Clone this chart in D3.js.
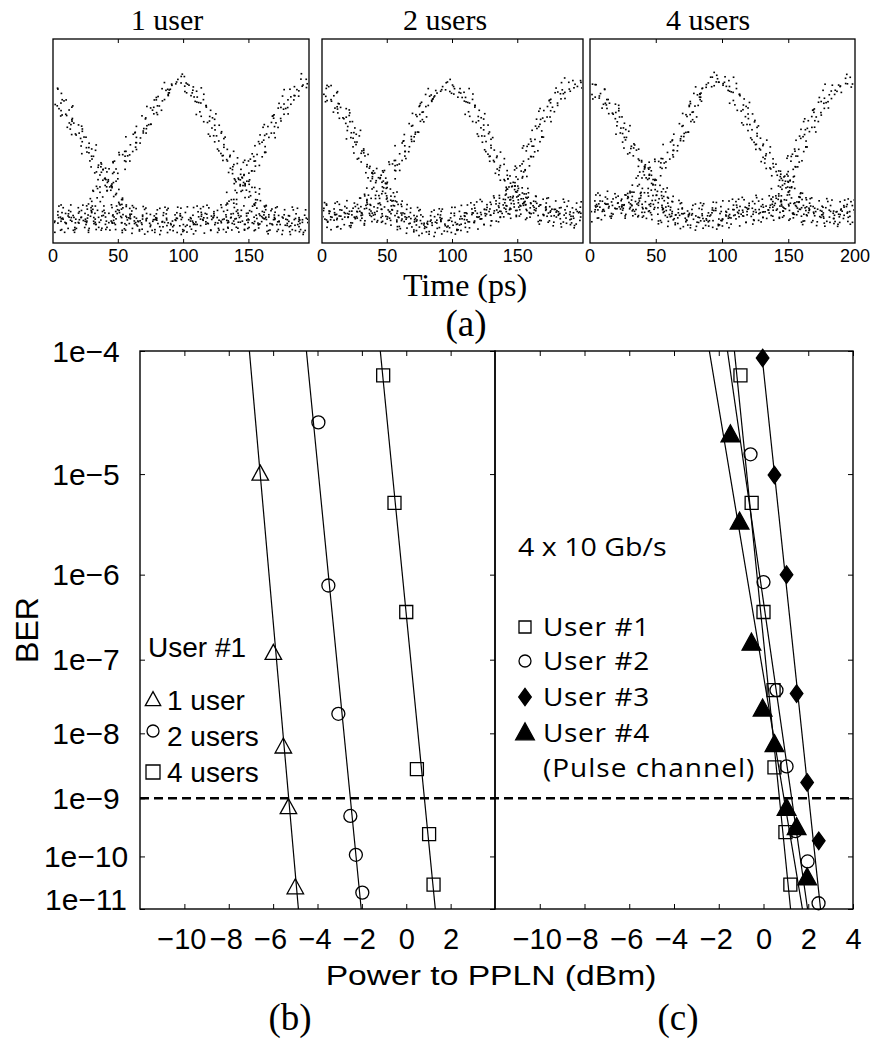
<!DOCTYPE html>
<html><head><meta charset="utf-8">
<script src="https://cdn.jsdelivr.net/npm/d3@7"></script>
<style>body{margin:0;background:#fff}svg{display:block}</style>
</head><body><svg id="c" width="872" height="1040"></svg>
<script>
// ================= DATA =================
// (a) eye diagrams: [time (ps), normalised level]
const eyeTitles = ["1 user", "2 users", "4 users"];
const eyeTimeDomains = [[0, 196], [0, 200], [0, 200]];
const eyeTickValues = [[0, 50, 100, 150], [0, 50, 100, 150], [0, 50, 100, 150, 200]];

const eye1Fall  = [[0,0.74],[6,0.69],[12,0.63],[18,0.56],[24,0.50],[30,0.43],[36,0.36],[41,0.31],[47,0.25],[53,0.19],[58,0.15]];
const eye1Pulse = [[27,0.16],[33,0.22],[38,0.28],[43,0.33],[49,0.38],[55,0.43],[62,0.50],[68,0.56],[74,0.62],[80,0.68],[87,0.74],[93,0.78],[98,0.80],[103,0.78],[109,0.73],[115,0.66],[121,0.58],[127,0.51],[133,0.43],[139,0.37],[145,0.32],[151,0.26],[157,0.20],[163,0.15]];
const eye1Rise  = [[133,0.16],[139,0.23],[145,0.31],[151,0.38],[157,0.44],[163,0.51],[169,0.58],[175,0.65],[181,0.71],[188,0.77],[196,0.81]];
const eye1Zero  = [[0,0.12],[25,0.12],[50,0.12],[75,0.11],[100,0.11],[125,0.12],[150,0.12],[175,0.11],[196,0.11]];

const eye2Fall  = [[0,0.79],[9,0.70],[18,0.63],[23,0.55],[28,0.47],[33,0.40],[38,0.34],[46,0.30],[54,0.22],[60,0.18]];
const eye2Pulse = [[30,0.18],[38,0.24],[46,0.31],[52,0.35],[58,0.41],[64,0.48],[69,0.54],[74,0.61],[79,0.68],[86,0.73],[94,0.76],[100,0.77],[106,0.74],[112,0.70],[117,0.63],[122,0.57],[127,0.49],[132,0.42],[138,0.36],[143,0.31],[148,0.27],[154,0.23],[160,0.20]];
const eye2Rise  = [[136,0.20],[142,0.24],[148,0.29],[153,0.37],[158,0.44],[165,0.53],[171,0.62],[178,0.69],[184,0.75],[192,0.78],[200,0.80]];
const eye2Zero  = [[0,0.13],[20,0.14],[40,0.16],[55,0.14],[70,0.11],[85,0.10],[100,0.11],[115,0.13],[130,0.16],[145,0.19],[160,0.17],[180,0.15],[200,0.14]];

const eye3Fall  = [[0,0.77],[10,0.71],[19,0.65],[24,0.57],[29,0.49],[34,0.44],[39,0.39],[43,0.34],[47,0.31],[54,0.25],[62,0.20]];
const eye3Pulse = [[28,0.20],[35,0.25],[42,0.31],[50,0.37],[59,0.44],[65,0.50],[72,0.57],[77,0.65],[82,0.72],[88,0.77],[94,0.80],[100,0.81],[106,0.76],[112,0.70],[117,0.63],[122,0.57],[127,0.50],[132,0.44],[137,0.39],[142,0.34],[148,0.30],[155,0.24],[162,0.20]];
const eye3Rise  = [[138,0.20],[145,0.27],[151,0.36],[157,0.45],[163,0.53],[170,0.62],[177,0.70],[183,0.75],[190,0.78],[200,0.80]];
const eye3Zero  = [[0,0.17],[20,0.19],[40,0.18],[60,0.15],[80,0.13],[100,0.14],[120,0.16],[140,0.18],[160,0.16],[180,0.15],[200,0.15]];

// (b),(c) BER curves: [power dBm, BER]
const powerTicksB = [-10, -8, -6, -4, -2, 0, 2];
const powerTicksC = [-10, -8, -6, -4, -2, 0, 2, 4];
const berTicks = [1e-4, 1e-5, 1e-6, 1e-7, 1e-8, 1e-9, 1e-10, 1e-11];
const berTickLabels = ["1e-4", "1e-5", "1e-6", "1e-7", "1e-8", "1e-9", "1e-10", "1e-11"];
const berThreshold = 1e-9;

const b1User  = [[-6.58,1.0e-5],[-5.99,1.2e-7],[-5.54,6.3e-9],[-5.31,7e-10],[-5.00,2.6e-11]];
const b2Users = [[-3.96,2.8e-5],[-3.51,7.6e-7],[-3.06,1.9e-8],[-2.52,5.1e-10],[-2.27,1.07e-10],[-1.98,2.1e-11]];
const b4Users = [[-1.04,6.6e-5],[-0.53,5.4e-6],[0.00,3.8e-7],[0.48,2.9e-9],[1.03,2.5e-10],[1.23,3e-11]];
// fitted lines: power at BER 1e-4 and at BER 1e-11
const bFits = [[-7.07,-4.86],[-4.50,-2.03],[-1.17,1.31]];

const cUser1 = [[-1.03,6.6e-5],[-0.53,5.4e-6],[0.00,3.8e-7],[0.45,4.0e-8],[0.49,3.1e-9],[0.98,2.7e-10],[1.20,3e-11]];
const cUser2 = [[-0.58,1.5e-5],[0.00,8.3e-7],[0.58,4.0e-8],[1.03,3.2e-9],[1.43,2.8e-10],[1.97,8.1e-11],[2.46,1.3e-11]];
const cUser3 = [[-0.04,8.9e-5],[0.49,9.8e-6],[1.03,1.0e-6],[1.48,3.6e-8],[1.95,1.8e-9],[2.47,1.9e-10]];
const cUser4 = [[-1.48,2.2e-5],[-1.07,3.5e-6],[-0.54,1.6e-7],[-0.04,2.2e-8],[0.49,6.8e-9],[1.03,6.8e-10],[1.48,3.2e-10],[1.95,4e-11]];
const cFits = [[-2.42,1.74],[-1.61,1.97],[-1.30,1.21],[-0.09,2.55]];

const legendB = ["1 user", "2 users", "4 users"];
const legendC = ["User #1", "User #2", "User #3", "User #4"];

// ================= DRAWING =================
const svg = d3.select("#c");
const SANS = "'Liberation Sans', Arial, sans-serif";
const SERIF = "'Liberation Serif', 'Times New Roman', serif";
const HUM = "'Open Sans', 'DejaVu Sans', sans-serif";
const minus = s => String(s).replace(/-/g, "\u2212");

function T(x, y, str, o) {
  const g = svg.append("g").attr("transform", `translate(${x},${y})${o.rot ? ` rotate(${o.rot})` : ""} scale(${o.sx || 1},1)`);
  const t = g.append("text").attr("text-anchor", o.anchor || "start")
    .attr("font-family", o.family).attr("font-size", o.size).attr("fill", "#000").text(str);
  if (o.dy) t.attr("dy", o.dy);
  if (o.ls) t.attr("letter-spacing", o.ls);
  return t;
}

// ---------- (a) eye diagrams ----------
const eyeY = d3.scaleLinear().domain([0, 1]).range([243, 39]);
const eyeLayout = [{x0: 53, x1: 309, tx: 167}, {x0: 322, x1: 583, tx: 445}, {x0: 590, x1: 855, tx: 708}];
const eyeData = [
  {traces: [eye1Fall, eye1Pulse, eye1Rise], zero: eye1Zero},
  {traces: [eye2Fall, eye2Pulse, eye2Rise], zero: eye2Zero},
  {traces: [eye3Fall, eye3Pulse, eye3Rise], zero: eye3Zero}
];
// fixed scatter pattern (px) used to give the noisy traces their dotted texture
const jitX = [0.0, 4.1, -2.7, 6.3, -5.2, 1.8, -0.9, 3.3, -6.1, 2.4, -3.8, 5.5, -1.6, 0.7, -4.4, 2.9, -2.1];
const jitY = [1.2, -3.5, 4.8, -0.4, 2.6, -5.9, 0.3, 5.1, -2.2, -4.7, 3.9, -1.1, 6.0, -3.0, 1.7, -0.6, 4.3, -5.4, 2.0];
const skip = [1, 1, 0, 1, 1, 1, 0, 1, 1, 0, 1, 1, 1];

eyeLayout.forEach((L, i) => {
  const x = d3.scaleLinear().domain(eyeTimeDomains[i]).range([L.x0, L.x1]);
  const g = svg.append("g");
  const clipId = "eclip" + i;
  svg.append("clipPath").attr("id", clipId).append("rect")
    .attr("x", L.x0 + 1).attr("y", 40).attr("width", L.x1 - L.x0 - 2).attr("height", 202);
  const dots = g.append("g").attr("clip-path", `url(#${clipId})`);
  let k = i * 5;
  const scatter = (pts, step, sx, sy) => {
    const line = d3.line().x(d => x(d[0])).y(d => eyeY(d[1])).curve(d3.curveCatmullRom);
    const p = g.append("path").attr("d", line(pts)).attr("fill", "none").attr("stroke", "none");
    const node = p.node(), len = node.getTotalLength();
    const out = [];
    for (let s = 0; s <= len; s += step) {
      k++;
      if (!skip[k % skip.length]) continue;
      const pt = node.getPointAtLength(s);
      out.push([pt.x + jitX[k % jitX.length] * sx, pt.y + jitY[k % jitY.length] * sy]);
    }
    p.remove();
    dots.selectAll(null).data(out).join("rect")
      .attr("x", d => d[0] - 0.8).attr("y", d => d[1] - 0.8)
      .attr("width", 1.7).attr("height", 1.6).attr("fill", "#000");
  };
  eyeData[i].traces.forEach(t => scatter(t, 1.15, 1.1, 1.1));
  scatter(eyeData[i].zero, 0.6, 0.6, 2.3);
  scatter(eyeData[i].zero, 1.5, 0.8, 1.0);

  g.append("rect").attr("x", L.x0).attr("y", 39).attr("width", L.x1 - L.x0).attr("height", 204)
    .attr("fill", "none").attr("stroke", "#000").attr("stroke-width", 1.3);
  [50, 100, 150].forEach(v => {
    g.append("line").attr("x1", x(v)).attr("x2", x(v)).attr("y1", 39).attr("y2", 43).attr("stroke", "#000");
    g.append("line").attr("x1", x(v)).attr("x2", x(v)).attr("y1", 243).attr("y2", 239).attr("stroke", "#000");
  });
  g.selectAll("text.tk").data(eyeTickValues[i]).join("text")
    .attr("x", d => x(d)).attr("y", 262).attr("text-anchor", "middle")
    .attr("font-family", SANS).attr("font-size", 18).text(d => d);
  g.append("text").attr("x", L.tx).attr("y", 30).attr("text-anchor", "middle")
    .attr("font-family", SERIF).attr("font-size", 30).text(eyeTitles[i]);
});
T(465, 296, "Time (ps)", {family: SERIF, size: 32, anchor: "middle"});
T(466, 336, "(a)", {family: SERIF, size: 37, anchor: "middle"});

// ---------- (b),(c) BER ----------
const tr = b => Math.log10(-Math.log10(b));
const yT = d3.scaleLinear().domain([tr(1e-4), tr(1e-11)]).range([351, 909]);
const yB = b => yT(tr(b));
const xB = d3.scaleLinear().domain([-12, 4]).range([140, 495]);
const xC = d3.scaleLinear().domain([-12, 4]).range([495, 853]);

svg.append("clipPath").attr("id", "cb").append("rect").attr("x", 140).attr("y", 351).attr("width", 355).attr("height", 558);
svg.append("clipPath").attr("id", "cc").append("rect").attr("x", 495).attr("y", 351).attr("width", 358).attr("height", 558);

function panelAxes(x, ticks) {
  const gb = svg.append("g").attr("transform", "translate(0,909)")
    .call(d3.axisBottom(x).tickValues(ticks).tickSize(-5).tickPadding(19).tickFormat(d => minus(d)));
  gb.select(".domain").remove();
  gb.selectAll("text").attr("font-family", SANS).attr("font-size", 29).attr("fill", "#000")
    .attr("x", d => d < 0 ? -3 : 0);
  gb.selectAll("line").attr("stroke", "#000");
  const gt = svg.append("g").attr("transform", "translate(0,351)")
    .call(d3.axisTop(x).tickValues(ticks).tickSize(-5).tickFormat(""));
  gt.select(".domain").remove();
  gt.selectAll("line").attr("stroke", "#000");
}
panelAxes(xB, powerTicksB);
panelAxes(xC, powerTicksC);

// y axes
const yAxisG = svg.append("g").attr("transform", "translate(140,0)")
  .call(d3.axisLeft(yT).tickValues(berTicks.map(tr)).tickSize(-5).tickFormat((d, i) => minus(berTickLabels[i])));
yAxisG.select(".domain").remove();
yAxisG.selectAll("line").attr("stroke", "#000");
yAxisG.selectAll("text").attr("font-family", SANS).attr("font-size", 30).attr("fill", "#000")
  .attr("text-anchor", "middle").attr("x", -54)
  .attr("dy", (d, i) => i === berTicks.length - 1 ? "0.0em" : "0.34em");
[495, 853].forEach(xx => {
  const ga = svg.append("g").attr("transform", `translate(${xx},0)`)
    .call(d3.axisRight(yT).tickValues(berTicks.map(tr)).tickSize(-5).tickFormat(""));
  ga.select(".domain").remove();
  ga.selectAll("line").attr("stroke", "#000");
});

// frames
svg.append("rect").attr("x", 140).attr("y", 351).attr("width", 355).attr("height", 558)
  .attr("fill", "none").attr("stroke", "#000").attr("stroke-width", 1.4);
svg.append("rect").attr("x", 495).attr("y", 351).attr("width", 358).attr("height", 558)
  .attr("fill", "none").attr("stroke", "#000").attr("stroke-width", 1.4);

// threshold dashed line
svg.append("line").attr("x1", xB(-12)).attr("x2", xC(4)).attr("y1", yB(berThreshold)).attr("y2", yB(berThreshold))
  .attr("stroke", "#000").attr("stroke-width", 2.4).attr("stroke-dasharray", "9 5");

// fit lines
function fits(x, arr, clip) {
  svg.append("g").attr("clip-path", `url(#${clip})`).selectAll("line").data(arr).join("line")
    .attr("x1", d => x(d[0])).attr("y1", yB(1e-4)).attr("x2", d => x(d[1])).attr("y2", yB(1e-11))
    .attr("stroke", "#000").attr("stroke-width", 1.2);
}
fits(xB, bFits, "cb");
fits(xC, cFits, "cc");

// markers
const markerPath = {
  tri: s => `M0,${-s * 0.6}L${s * 0.55},${s * 0.4}L${-s * 0.55},${s * 0.4}Z`,
  sq: s => `M${-s / 2},${-s / 2}h${s}v${s}h${-s}Z`,
  circ: s => d3.arc()({innerRadius: 0, outerRadius: s / 2, startAngle: 0, endAngle: 2 * Math.PI}),
  dia: s => `M0,${-s * 0.58}L${s * 0.42},0L0,${s * 0.58}L${-s * 0.42},0Z`
};
function marks(x, arr, type, size, filled) {
  svg.append("g").selectAll("path").data(arr).join("path")
    .attr("transform", d => `translate(${x(d[0])},${yB(d[1])})`)
    .attr("d", markerPath[type](size))
    .attr("fill", filled ? "#000" : "none").attr("stroke", "#000").attr("stroke-width", 1.3);
}
marks(xB, b1User, "tri", 15, false);
marks(xB, b2Users, "circ", 13, false);
marks(xB, b4Users, "sq", 13, false);
marks(xC, cUser1, "sq", 13, false);
marks(xC, cUser2, "circ", 13, false);
marks(xC, cUser3, "dia", 15, true);
marks(xC, cUser4, "tri", 17, true);

// legends
function legendMark(type, cx, cy, size, filled) {
  svg.append("path").attr("transform", `translate(${cx},${cy})`).attr("d", markerPath[type](size))
    .attr("fill", filled ? "#000" : "none").attr("stroke", "#000").attr("stroke-width", 1.3);
}
T(148, 647, "User #1", {family: SANS, size: 28, dy: "0.35em"});
const lbY = [700, 736, 772];
const lbType = ["tri", "circ", "sq"];
legendB.forEach((t, i) => {
  legendMark(lbType[i], 153, lbY[i] - (i === 1 ? 5 : 0), i === 1 ? 12 : 14, false);
  T(167, lbY[i], t, {family: SANS, size: 28, dy: "0.35em"});
});

T(518, 547, "4 x 10 Gb/s", {family: HUM, size: 26, dy: "0.36em", sx: 1.1});
const lcY = [627, 661, 697, 733];
const lcType = ["sq", "circ", "dia", "tri"];
const lcFill = [false, false, true, true];
legendC.forEach((t, i) => {
  legendMark(lcType[i], 525, lcY[i], lcType[i] === "tri" ? 17 : (lcType[i] === "dia" ? 15 : 12), lcFill[i]);
  T(543, lcY[i], t, {family: HUM, size: 25, dy: "0.36em", sx: 1.12, ls: 0.6});
});
T(543, 768, "(Pulse channel)", {family: HUM, size: 25, dy: "0.36em", sx: 1.12, ls: 0.9});

// axis titles
T(27, 630, "BER", {family: SANS, size: 32, anchor: "middle", dy: "0.35em", rot: -90});
T(491, 985, "Power to PPLN (dBm)", {family: SANS, size: 28.5, anchor: "middle", sx: 1.18});
T(290, 1030, "(b)", {family: SERIF, size: 37, anchor: "middle"});
T(678, 1030, "(c)", {family: SERIF, size: 37, anchor: "middle"});
</script></body></html>
